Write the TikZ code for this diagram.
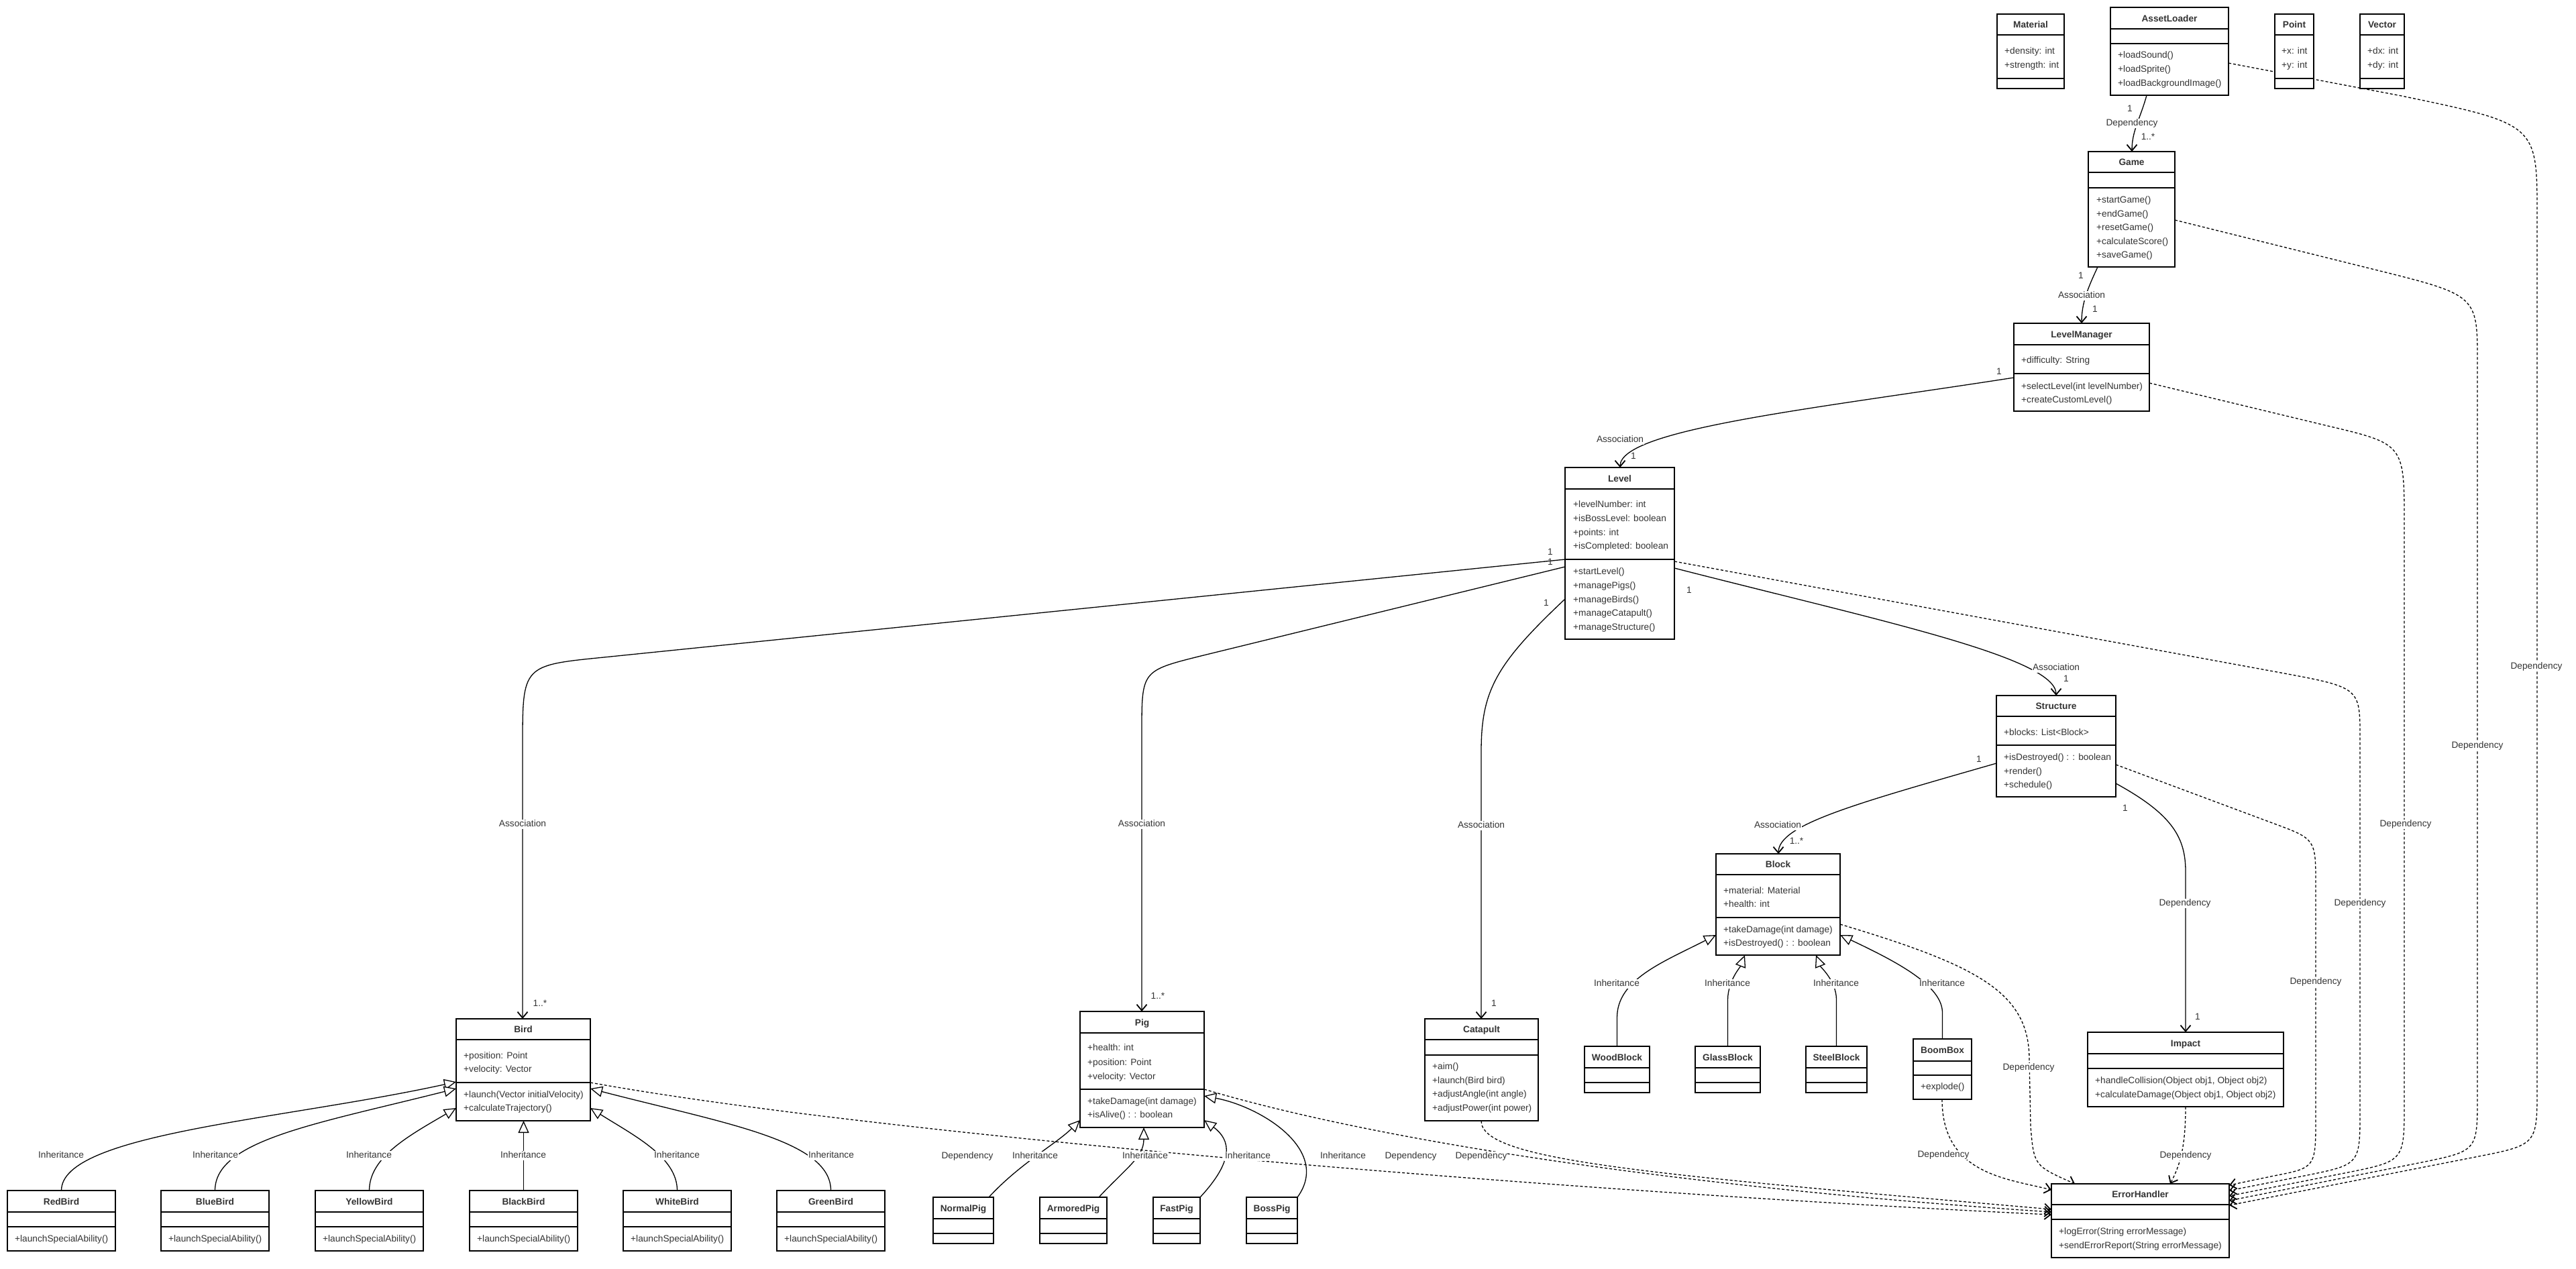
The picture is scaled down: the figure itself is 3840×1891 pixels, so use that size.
\documentclass[tikz,border=0pt]{standalone}
\usepackage{fontspec}
\setmainfont{Liberation Sans}
\usetikzlibrary{arrows.meta,calc}
\definecolor{txt}{HTML}{333333}
\pgfdeclarelayer{bg}
\pgfdeclarelayer{edges}
\pgfsetlayers{bg,edges,main}
\tikzset{
 clsbox/.style={draw=black, line width=1.3pt, fill=white, inner sep=0pt, outer sep=0pt, anchor=north west},
 clsline/.style={draw=black, line width=1.3pt},
 ttl/.style={font=\fontsize{13.7}{16}\selectfont\bfseries, text=txt, inner sep=0pt, text height=10pt, text depth=3pt},
 mem/.style={font=\fontsize{13.7}{16}\selectfont, text=txt, inner sep=0pt, anchor=west, text height=10pt, text depth=3pt},
 lbl/.style={font=\fontsize{13.7}{16}\selectfont, text=txt, fill=white, inner xsep=1pt, inner ysep=0.5pt, text height=10pt, text depth=3pt},
 mult/.style={font=\fontsize{13.7}{16}\selectfont, text=txt, inner sep=0pt, text height=10pt, text depth=3pt},
 assoc/.style={draw=black, line width=1.3pt, -{Straight Barb[length=9pt,width=15pt,line width=1.8pt]}},
 depend/.style={assoc, dash pattern=on 4pt off 3pt},
 inherit/.style={draw=black, line width=1.3pt, -{Triangle[fill=white,length=18pt,width=16pt,line width=1.3pt]}},
}
% id, x, y, w, h, header bottom, attrs bottom, title
\newcommand{\ucls}[8]{%
  \node[clsbox, minimum width=#4pt, minimum height=#5pt] (#1) at (#2,-#3) {};
  \draw[clsline] (#2,-#6) -- ++(#4,0);
  \draw[clsline] (#2,-#7) -- ++(#4,0);
  \node[ttl] (#1-title) at ({#2+#4/2}, {-(#3+#6)/2-1.5}) {#8};
}
% prefix, x, first y, spacing, list
\newcommand{\umem}[5]{%
  \foreach \mtxt [count=\mi] in {#5} {\node[mem] (#1-\mi) at (#2, {-(#3+(\mi-1)*#4)}) {\mtxt};}
}
\newcommand{\elab}[4]{\node[lbl] (#1) at (#2,-#3) {#4};}
\newcommand{\mlab}[4]{\node[mult] (#1) at (#2,-#3) {#4};}
\begin{document}
\begin{tikzpicture}[x=1pt,y=1pt]
\begin{pgfonlayer}{bg}
\fill[white] (0,0) rectangle (3840,-1891);
\end{pgfonlayer}
\useasboundingbox (0,0) rectangle (3840,-1891);

% ---------- classes ----------
\ucls{Material}{2977}{21}{100}{111}{52}{117}{Material}
\umem{Material-a}{2988}{77}{21}{+density: int, +strength: int}
\ucls{AssetLoader}{3146}{11}{176}{131}{43}{65}{AssetLoader}
\umem{AssetLoader-m}{3157}{83}{21}{+loadSound(), +loadSprite(), +loadBackgroundImage()}
\ucls{Point}{3391}{21}{58}{111}{52}{117}{Point}
\umem{Point-a}{3401}{77}{21}{+x: int, +y: int}
\ucls{Vector}{3518}{21}{66}{111}{52}{117}{Vector}
\umem{Vector-a}{3529}{77}{21}{+dx: int, +dy: int}

\ucls{Game}{3113}{226}{129}{172}{257}{280}{Game}
\umem{Game-m}{3125}{299}{20.5}{+startGame(), +endGame(), +resetGame(), +calculateScore(), +saveGame()}
\ucls{LM}{3002}{482}{202}{131}{514}{557}{LevelManager}
\umem{LM-a}{3013}{538}{20}{+difficulty: String}
\umem{LM-m}{3013}{577}{20}{+selectLevel(int levelNumber), +createCustomLevel()}
\ucls{Level}{2333}{697}{163}{256}{729}{834}{Level}
\umem{Level-a}{2345}{753}{20.8}{+levelNumber: int, +isBossLevel: boolean, +points: int, +isCompleted: boolean}
\umem{Level-m}{2345}{853}{20.8}{+startLevel(), +managePigs(), +manageBirds(), +manageCatapult(), +manageStructure()}
\ucls{Structure}{2976}{1037}{178}{151}{1068}{1111}{Structure}
\umem{Structure-a}{2987}{1093}{20}{+blocks: List<Block>}
\umem{Structure-m}{2987}{1130}{20.5}{+isDestroyed() : : boolean, +render(), +schedule()}
\ucls{Block}{2558}{1273}{185}{151}{1304}{1368}{Block}
\umem{Block-a}{2569}{1329}{19.5}{+material: Material, +health: int}
\umem{Block-m}{2569}{1387}{20}{+takeDamage(int damage), +isDestroyed() : : boolean}
\ucls{WoodBlock}{2362}{1560}{97}{69}{1592}{1614}{WoodBlock}
\ucls{GlassBlock}{2527}{1560}{97}{69}{1592}{1614}{GlassBlock}
\ucls{SteelBlock}{2692}{1560}{91}{69}{1592}{1614}{SteelBlock}
\ucls{BoomBox}{2852}{1549}{87}{90}{1582}{1603}{BoomBox}
\umem{BoomBox-m}{2863}{1621}{20}{+explode()}
\ucls{Impact}{3112}{1539}{292}{111}{1571}{1593}{Impact}
\umem{Impact-m}{3123}{1612}{21}{{+handleCollision(Object obj1, Object obj2)}, {+calculateDamage(Object obj1, Object obj2)}}
\ucls{EH}{3058}{1765}{265}{110}{1796}{1818}{ErrorHandler}
\umem{EH-m}{3069}{1837}{21}{+logError(String errorMessage), +sendErrorReport(String errorMessage)}

\ucls{Bird}{680}{1519}{200}{152}{1550}{1614}{Bird}
\umem{Bird-a}{691}{1575}{20}{+position: Point, +velocity: Vector}
\umem{Bird-m}{691}{1633}{20}{+launch(Vector initialVelocity), +calculateTrajectory()}
\ucls{RedBird}{11}{1775}{161}{90}{1807}{1829}{RedBird}
\umem{RedBird-m}{22}{1848}{20}{+launchSpecialAbility()}
\ucls{BlueBird}{240}{1775}{161}{90}{1807}{1829}{BlueBird}
\umem{BlueBird-m}{251}{1848}{20}{+launchSpecialAbility()}
\ucls{YellowBird}{470}{1775}{161}{90}{1807}{1829}{YellowBird}
\umem{YellowBird-m}{481}{1848}{20}{+launchSpecialAbility()}
\ucls{BlackBird}{700}{1775}{161}{90}{1807}{1829}{BlackBird}
\umem{BlackBird-m}{711}{1848}{20}{+launchSpecialAbility()}
\ucls{WhiteBird}{929}{1775}{161}{90}{1807}{1829}{WhiteBird}
\umem{WhiteBird-m}{940}{1848}{20}{+launchSpecialAbility()}
\ucls{GreenBird}{1158}{1775}{161}{90}{1807}{1829}{GreenBird}
\umem{GreenBird-m}{1169}{1848}{20}{+launchSpecialAbility()}

\ucls{Pig}{1610}{1508}{185}{173}{1540}{1624}{Pig}
\umem{Pig-a}{1621}{1563}{21.5}{+health: int, +position: Point, +velocity: Vector}
\umem{Pig-m}{1621}{1643}{20}{+takeDamage(int damage), +isAlive() : : boolean}
\ucls{NormalPig}{1391}{1785}{90}{69}{1817}{1839}{NormalPig}
\ucls{ArmoredPig}{1550}{1785}{100}{69}{1817}{1839}{ArmoredPig}
\ucls{FastPig}{1719}{1785}{70}{69}{1817}{1839}{FastPig}
\ucls{BossPig}{1858}{1785}{76}{69}{1817}{1839}{BossPig}
\ucls{Catapult}{2124}{1519}{169}{152}{1550}{1573}{Catapult}
\umem{Catapult-m}{2135}{1591}{20.7}{+aim(), +launch(Bird bird), +adjustAngle(int angle), +adjustPower(int power)}

% ---------- connectors ----------
\begin{pgfonlayer}{edges}
% associations
\draw[assoc] ([xshift=54pt]AssetLoader.south west) .. controls (3190,-178) and (3178,-195) .. ([xshift=65pt]Game.north west);
\draw[assoc] ([xshift=14pt]Game.south west) .. controls (3112,-430) and (3103,-452) .. ([xshift=101pt]LM.north west);
\draw[assoc] ([yshift=-81pt]LM.north west) .. controls (2700,-610) and (2415,-640) .. ([xshift=82pt]Level.north west);
\draw[assoc] ([yshift=-137pt]Level.north west) -- (900,-980) .. controls (779,-992) .. (779,-1110) -- ([xshift=99pt]Bird.north west);
\draw[assoc] ([yshift=-148pt]Level.north west) -- (1790,-978) .. controls (1702,-1000) .. (1702,-1090) -- ([xshift=92pt]Pig.north west);
\draw[assoc] ([yshift=-196pt]Level.north west) .. controls (2230,-990) and (2208,-1030) .. (2208,-1120) -- ([xshift=84pt]Catapult.north west);
\draw[assoc] ([yshift=-150pt]Level.north east) .. controls (2800,-925) and (3065,-980) .. ([xshift=89pt]Structure.north west);
\draw[assoc] ([yshift=-101pt]Structure.north west) .. controls (2760,-1200) and (2651,-1230) .. ([xshift=93pt]Block.north west);
\draw[assoc] ([yshift=-131pt]Structure.north east) .. controls (3240,-1215) and (3258,-1250) .. (3258,-1300) -- ([xshift=146pt]Impact.north west);
% dependencies to ErrorHandler (right side)
\draw[depend] ([yshift=-83pt]AssetLoader.north east) -- (3580,-143) .. controls (3782,-185) .. (3782,-320) -- (3782,-1622) .. controls (3782,-1707) .. (3690,-1725) -- ([yshift=-32pt]EH.north east);
\draw[depend] ([yshift=-102pt]Game.north east) -- (3540,-402) .. controls (3693,-440) .. (3693,-540) -- (3693,-1634) .. controls (3693,-1716) .. (3610,-1733) -- ([yshift=-25pt]EH.north east);
\draw[depend] ([yshift=-89pt]LM.north east) -- (3470,-635) .. controls (3584,-662) .. (3584,-780) -- (3584,-1645) .. controls (3584,-1731) .. (3500,-1748) -- ([yshift=-18pt]EH.north east);
\draw[depend] ([yshift=-140pt]Level.north east) -- (3400,-1003) .. controls (3518,-1025) .. (3518,-1100) -- (3518,-1655) .. controls (3518,-1736) .. (3440,-1752) -- ([yshift=-10pt]EH.north east);
\draw[depend] ([yshift=-103pt]Structure.north east) -- (3390,-1228) .. controls (3452,-1251) .. (3452,-1320) -- (3452,-1665) .. controls (3452,-1741) .. (3390,-1753) -- ([yshift=-2pt]EH.north east);
% dependencies to ErrorHandler (left / top)
\draw[depend] ([yshift=-95pt]Bird.north east) .. controls (1300,-1690) and (2300,-1775) .. ([yshift=-46pt]EH.north west);
\draw[depend] ([yshift=-116pt]Pig.north east) .. controls (2050,-1700) and (2500,-1770) .. ([yshift=-42pt]EH.north west);
\draw[depend] ([xshift=84pt]Catapult.south west) .. controls (2208,-1730) and (2450,-1750) .. ([yshift=-38pt]EH.north west);
\draw[depend] ([xshift=43pt]BoomBox.south west) .. controls (2895,-1750) and (2990,-1757) .. ([yshift=-9pt]EH.north west);
\draw[depend] ([yshift=-105pt]Block.north east) .. controls (2950,-1440) and (3025,-1480) .. (3025,-1580) -- (3027,-1680) .. controls (3032,-1738) .. ([xshift=35pt]EH.north west);
\draw[depend] ([xshift=146pt]Impact.south west) .. controls (3258,-1715) and (3248,-1740) .. ([xshift=177pt]EH.north west);
% inheritance: birds
\draw[inherit] (RedBird.north) .. controls (91.5,-1690) and (420,-1670) .. ([yshift=-94pt]Bird.north west);
\draw[inherit] (BlueBird.north) .. controls (320.5,-1700) and (470,-1676) .. ([yshift=-104pt]Bird.north west);
\draw[inherit] (YellowBird.north) .. controls (550.5,-1725) and (610,-1693) .. ([yshift=-133pt]Bird.north west);
\draw[inherit] (BlackBird.north) -- (BlackBird.north |- Bird.south);
\draw[inherit] (WhiteBird.north) .. controls (1009.5,-1725) and (945,-1693) .. ([yshift=-133pt]Bird.north east);
\draw[inherit] (GreenBird.north) .. controls (1238.5,-1700) and (1080,-1675) .. ([yshift=-104pt]Bird.north east);
% inheritance: blocks
\draw[inherit] (WoodBlock.north) -- (2410.5,-1517) .. controls (2410.5,-1460) and (2480,-1434) .. ([yshift=-121pt]Block.north west);
\draw[inherit] (GlassBlock.north) -- (2575.5,-1490) .. controls (2576,-1462) and (2594,-1442) .. ([xshift=43pt]Block.south west);
\draw[inherit] (SteelBlock.north) -- (2737.5,-1490) .. controls (2737,-1462) and (2714,-1442) .. ([xshift=149pt]Block.south west);
\draw[inherit] (BoomBox.north) -- (2895.5,-1510) .. controls (2895.5,-1470) and (2830,-1435) .. ([yshift=-121pt]Block.north east);
% inheritance: pigs
\draw[inherit] ([xshift=83pt]NormalPig.north west) .. controls (1520,-1735) and (1575,-1705) .. ([yshift=-162pt]Pig.north west);
\draw[inherit] ([xshift=88pt]ArmoredPig.north west) .. controls (1680,-1740) and (1705,-1725) .. ([xshift=95pt]Pig.south west);
\draw[inherit] (FastPig.north east) .. controls (1840,-1730) and (1835,-1700) .. ([yshift=-162pt]Pig.north east);
\draw[inherit] (BossPig.north east) .. controls (1985,-1715) and (1880,-1650) .. ([yshift=-126pt]Pig.north east);
\end{pgfonlayer}

% ---------- edge labels ----------
\elab{l1}{3178}{184}{Dependency}
\elab{l2}{3103}{441}{Association}
\elab{l3}{2415}{656}{Association}
\elab{l4}{779}{1229}{Association}
\elab{l5}{1702}{1229}{Association}
\elab{l6}{2208}{1231}{Association}
\elab{l7}{3065}{996}{Association}
\elab{l8}{2650}{1231}{Association}
\elab{l9}{3257}{1347}{Dependency}
\elab{l10}{3781}{994}{Dependency}
\elab{l11}{3693}{1112}{Dependency}
\elab{l12}{3586}{1229}{Dependency}
\elab{l13}{3518}{1347}{Dependency}
\elab{l14}{3452}{1464}{Dependency}
\elab{l15}{1442}{1724}{Dependency}
\elab{l16}{2103}{1724}{Dependency}
\elab{l17}{2208}{1724}{Dependency}
\elab{l18}{2897}{1722}{Dependency}
\elab{l19}{3024}{1592}{Dependency}
\elab{l20}{3258}{1723}{Dependency}
\elab{i1}{91}{1723}{Inheritance}
\elab{i2}{321}{1723}{Inheritance}
\elab{i3}{550}{1723}{Inheritance}
\elab{i4}{780}{1723}{Inheritance}
\elab{i5}{1009}{1723}{Inheritance}
\elab{i6}{1239}{1723}{Inheritance}
\elab{i7}{2410}{1467}{Inheritance}
\elab{i8}{2575}{1467}{Inheritance}
\elab{i9}{2737}{1467}{Inheritance}
\elab{i10}{2895}{1467}{Inheritance}
\elab{i11}{1543}{1724}{Inheritance}
\elab{i12}{1707}{1724}{Inheritance}
\elab{i13}{1860}{1724}{Inheritance}
\elab{i14}{2002}{1724}{Inheritance}

% ---------- multiplicities ----------
\mlab{m1}{3175}{163}{1}
\mlab{m2}{3202}{205}{1..*}
\mlab{m3}{3102}{412}{1}
\mlab{m4}{3123}{462}{1}
\mlab{m5}{2980}{555}{1}
\mlab{m6}{2435}{681}{1}
\mlab{m7}{2311}{824}{1}
\mlab{m8}{2311}{839}{1}
\mlab{m9}{2305}{900}{1}
\mlab{m10}{805}{1497}{1..*}
\mlab{m11}{1726}{1486}{1..*}
\mlab{m12}{2227}{1497}{1}
\mlab{m13}{2518}{881}{1}
\mlab{m14}{3080}{1013}{1}
\mlab{m15}{2950}{1133}{1}
\mlab{m16}{2678}{1255}{1..*}
\mlab{m17}{3168}{1206}{1}
\mlab{m18}{3276}{1517}{1}
\end{tikzpicture}
\end{document}
